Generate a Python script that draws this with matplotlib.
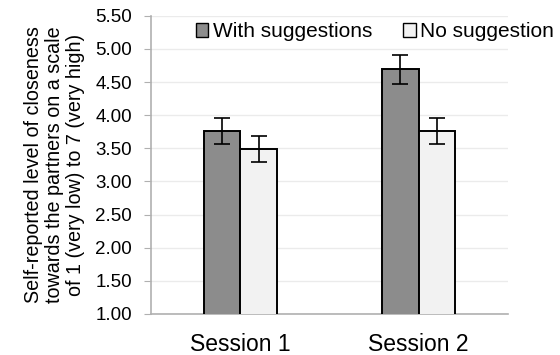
import numpy as np
import matplotlib.pyplot as plt
from matplotlib.patches import Patch

plt.rcParams['font.family'] = ['Liberation Sans', 'DejaVu Sans']

sessions = ["Session 1", "Session 2"]
with_sugg = [3.76, 4.69]
with_err = [0.20, 0.22]
no_sugg = [3.49, 3.76]
no_err = [0.20, 0.20]
series_names = ["With suggestions", "No suggestion"]

fig = plt.figure(figsize=(5.6, 3.55), dpi=100)
ax = fig.add_axes([0.27, 0.1155, 0.637, 0.84])

x = np.arange(len(sessions))
w = 0.205
ax.bar(x - w / 2, with_sugg, w, bottom=0, color="#8c8c8c", edgecolor="black", linewidth=1.4,
       yerr=with_err, capsize=6, error_kw=dict(elinewidth=1.2, capthick=1.2), zorder=3)
ax.bar(x + w / 2, no_sugg, w, color="#f2f2f2", edgecolor="black", linewidth=1.4,
       yerr=no_err, capsize=6, error_kw=dict(elinewidth=1.2, capthick=1.2), zorder=3)

ax.set_ylim(1, 5.5)
ax.set_xlim(-0.5, 1.5)
ax.set_yticks(np.arange(1, 5.51, 0.5))
ax.set_yticklabels(["%.2f" % v for v in np.arange(1, 5.51, 0.5)], fontsize=13.5)
ax.set_xticks(x)
ax.set_xticklabels(sessions, fontsize=16.5)
ax.tick_params(axis="x", length=0, pad=14)
ax.tick_params(axis="y", length=5, color="#b0b0b0", pad=9)
ax.yaxis.grid(True, color="#ebebeb", linewidth=1, zorder=0)
ax.set_axisbelow(True)
for s in ["top", "right"]:
    ax.spines[s].set_visible(False)
for s in ["left", "bottom"]:
    ax.spines[s].set_color("#b0b0b0")
    ax.spines[s].set_linewidth(1.2)

ax.set_ylabel("Self-reported level of closeness\ntowards the partners on a scale\nof 1 (very low) to 7 (very high)",
              fontsize=14.2, linespacing=1.15, labelpad=7)

handles = [Patch(facecolor="#8c8c8c", edgecolor="black"),
           Patch(facecolor="#f2f2f2", edgecolor="black")]
fig.legend(handles, series_names, loc="center left", bbox_to_anchor=(0.346, 0.91),
           ncol=2, frameon=True, edgecolor="none", facecolor="white", framealpha=1,
           fontsize=15, handlelength=0.6, handleheight=0.6, handletextpad=0.2,
           columnspacing=1.5, borderpad=0.1, borderaxespad=0)

fig.savefig("out.png", dpi=100)
